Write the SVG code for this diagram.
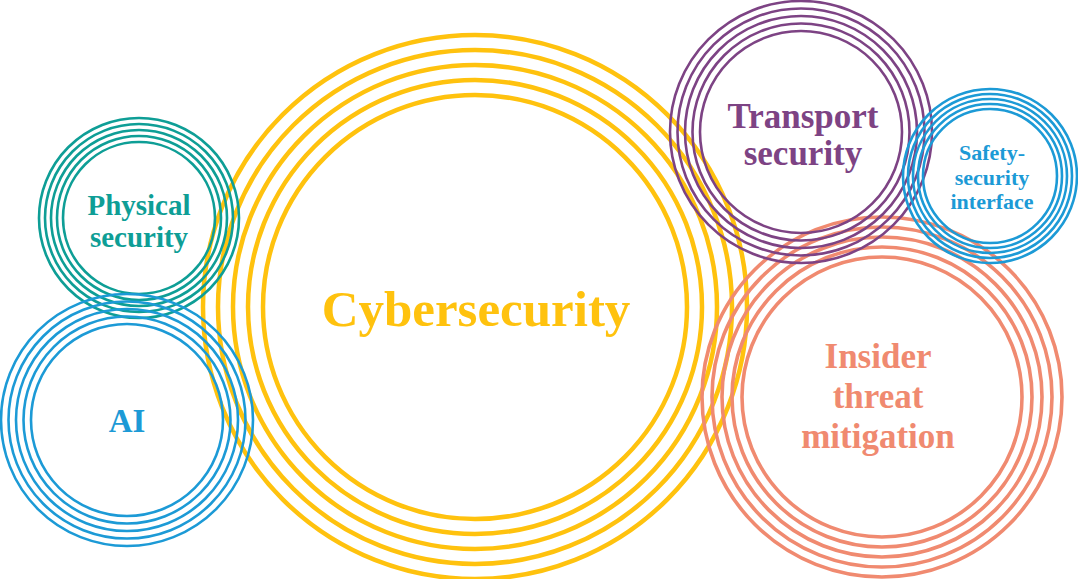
<svg xmlns="http://www.w3.org/2000/svg" width="1078" height="579" viewBox="0 0 1078 579">
<style>
circle{fill:none}
.y{stroke:#FFC20E;stroke-width:4.5}
.t{stroke:#0E9E96;stroke-width:2.6}
.b{stroke:#1C9AD6;stroke-width:2.6}
.p{stroke:#7D4384;stroke-width:2.6}
.s{stroke:#F08A70;stroke-width:3.6}
text{font-family:"Liberation Serif","DejaVu Serif",serif;font-weight:bold;text-anchor:middle}
</style>
<rect width="1078" height="579" fill="#fff"/>
<g id="cybersecurity">
<circle class="y" cx="475" cy="307" r="272"/>
<circle class="y" cx="475" cy="307" r="257"/>
<circle class="y" cx="475" cy="307" r="242"/>
<circle class="y" cx="475" cy="307" r="227"/>
<circle class="y" cx="475" cy="307" r="212"/>
<text x="476" y="326" font-size="51" fill="#FFC20E">Cybersecurity</text>
</g>
<g id="physical-security">
<circle class="t" cx="139" cy="218" r="100"/>
<circle class="t" cx="139" cy="218" r="94"/>
<circle class="t" cx="139" cy="218" r="88"/>
<circle class="t" cx="139" cy="218" r="82"/>
<circle class="t" cx="139" cy="218" r="76"/>
<text x="139" y="215" font-size="29" fill="#0E9E96">Physical</text>
<text x="139" y="247" font-size="29" fill="#0E9E96">security</text>
</g>
<g id="ai">
<circle class="b" cx="127" cy="420" r="126"/>
<circle class="b" cx="127" cy="420" r="118.5"/>
<circle class="b" cx="127" cy="420" r="111"/>
<circle class="b" cx="127" cy="420" r="103.5"/>
<circle class="b" cx="127" cy="420" r="96"/>
<text x="127" y="432" font-size="33" fill="#1C9AD6">AI</text>
</g>
<g id="insider-threat-mitigation">
<circle class="s" cx="882" cy="397" r="180"/>
<circle class="s" cx="882" cy="397" r="170"/>
<circle class="s" cx="882" cy="397" r="160"/>
<circle class="s" cx="882" cy="397" r="150"/>
<circle class="s" cx="882" cy="397" r="140"/>
<text x="878" y="368" font-size="35" fill="#F08A70">Insider</text>
<text x="878" y="408" font-size="35" fill="#F08A70">threat</text>
<text x="878" y="448" font-size="35" fill="#F08A70">mitigation</text>
</g>
<g id="transport-security">
<circle class="p" cx="801" cy="132" r="131"/>
<circle class="p" cx="801" cy="132" r="123.5"/>
<circle class="p" cx="801" cy="132" r="116"/>
<circle class="p" cx="801" cy="132" r="108.5"/>
<circle class="p" cx="801" cy="132" r="101"/>
<text x="803" y="128" font-size="35" fill="#7D4384">Transport</text>
<text x="803" y="165" font-size="35" fill="#7D4384">security</text>
</g>
<g id="safety-security-interface">
<circle class="b" cx="990" cy="176" r="87"/>
<circle class="b" cx="990" cy="176" r="82"/>
<circle class="b" cx="990" cy="176" r="77"/>
<circle class="b" cx="990" cy="176" r="72"/>
<circle class="b" cx="990" cy="176" r="67"/>
<text x="992" y="160" font-size="22" fill="#1C9AD6">Safety-</text>
<text x="992" y="185" font-size="22" fill="#1C9AD6">security</text>
<text x="992" y="209" font-size="22" fill="#1C9AD6">interface</text>
</g>
<g id="connectors"/>
</svg>
